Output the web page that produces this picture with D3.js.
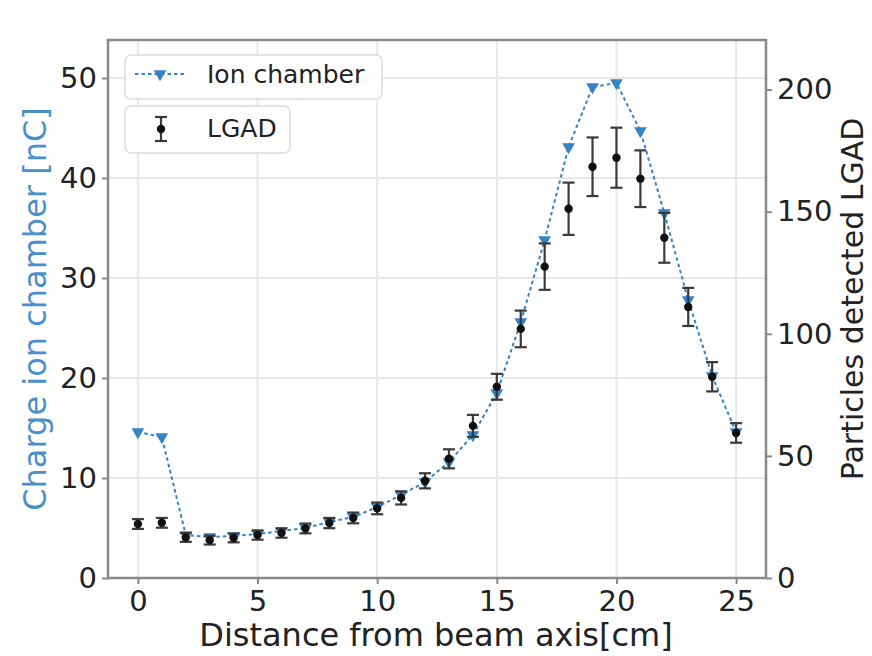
<!DOCTYPE html>
<html><head><meta charset="utf-8">
<script src="https://cdn.jsdelivr.net/npm/d3@7"></script>
<style>html,body{margin:0;padding:0;background:#fff;}svg{display:block;font-family:"DejaVu Sans",sans-serif;}</style>
</head><body>
<svg id="chart" width="872" height="656"></svg>
<script>
const distance = [0,1,2,3,4,5,6,7,8,9,10,11,12,13,14,15,16,17,18,19,20,21,22,23,24,25];
const ionCharge = [14.6,14.1,4.3,4.1,4.2,4.4,4.7,5.0,5.6,6.1,7.1,8.3,9.6,11.6,14.3,18.5,25.6,33.8,43.1,49.1,49.5,44.7,36.5,27.8,20.2,14.6];
const lgadCounts = [22.1,22.6,16.6,15.5,16.4,17.6,18.4,20.3,22.5,24.6,28.5,32.8,39.8,48.8,62.3,78.3,102,127.5,151.2,168.4,172.1,163.5,139.3,111,82.4,59.4];
const lgadErr = [2.0,2.0,1.8,1.8,1.8,1.9,1.9,2.0,2.1,2.2,2.4,2.7,3.1,3.9,4.5,5.3,7.5,9.5,10.7,12.0,12.3,11.6,10.2,7.8,6.0,4.0];
const xTicks = [0,5,10,15,20,25];
const leftTicks = [0,10,20,30,40,50];
const rightTicks = [0,50,100,150,200];

const svg = d3.select("#chart");
const L = 108, R = 766, T = 40, B = 578;
const x = d3.scaleLinear().domain([-1.25, 26.25]).range([L, R]);
const yL = d3.scaleLinear().domain([0, 53.8]).range([B, T]);
const yR = d3.scaleLinear().domain([0, 220.3]).range([B, T]);

const blue = "#3583c4";
const spine = "#8a8a8a";

// grid
const grid = svg.append("g");
grid.selectAll("line.vx").data(xTicks).join("line")
  .attr("x1", d => x(d)).attr("x2", d => x(d)).attr("y1", T).attr("y2", B)
  .attr("stroke", "#e8e8e8").attr("stroke-width", 2);
grid.selectAll("line.hy").data(leftTicks).join("line")
  .attr("x1", L).attr("x2", R).attr("y1", d => yL(d)).attr("y2", d => yL(d))
  .attr("stroke", "#e8e8e8").attr("stroke-width", 2);

// ion chamber series
const line = d3.line().x((d, i) => x(distance[i])).y(d => yL(d));
svg.append("path").datum(ionCharge).attr("d", line)
  .attr("fill", "none").attr("stroke", blue).attr("stroke-width", 2)
  .attr("stroke-dasharray", "3.5,3");
const tri = d3.symbol().type(d3.symbolTriangle).size(70);
svg.append("g").selectAll("path").data(ionCharge).join("path")
  .attr("d", tri)
  .attr("transform", (d, i) => `translate(${x(distance[i])},${yL(d)}) rotate(180)`)
  .attr("fill", blue);

// LGAD series
const eg = svg.append("g").attr("stroke", "#3a3a3a").attr("stroke-width", 2.2);
lgadCounts.forEach((v, i) => {
  const cx = x(distance[i]), y1 = yR(v - lgadErr[i]), y2 = yR(v + lgadErr[i]);
  eg.append("line").attr("x1", cx).attr("x2", cx).attr("y1", y1).attr("y2", y2);
  eg.append("line").attr("x1", cx - 6).attr("x2", cx + 6).attr("y1", y1).attr("y2", y1);
  eg.append("line").attr("x1", cx - 6).attr("x2", cx + 6).attr("y1", y2).attr("y2", y2);
});
svg.append("g").selectAll("circle").data(lgadCounts).join("circle")
  .attr("cx", (d, i) => x(distance[i])).attr("cy", d => yR(d)).attr("r", 4.2)
  .attr("fill", "#111");

// axes
function styleAxis(g) {
  g.selectAll(".domain").remove();
  g.selectAll(".tick line").attr("stroke", spine).attr("stroke-width", 2);
  g.selectAll(".tick text").attr("fill", "#222").style("font-size", "29px")
    .style("font-family", "DejaVu Sans");
}
svg.append("g").attr("transform", `translate(0,${B})`)
  .call(d3.axisBottom(x).tickValues(xTicks).tickSize(6).tickPadding(6).tickFormat(d3.format("d")))
  .call(styleAxis);
svg.append("g").attr("transform", `translate(${L},0)`)
  .call(d3.axisLeft(yL).tickValues(leftTicks).tickSize(6).tickPadding(5).tickFormat(d3.format("d")))
  .call(styleAxis);
svg.append("g").attr("transform", `translate(${R},0)`)
  .call(d3.axisRight(yR).tickValues(rightTicks).tickSize(6).tickPadding(5).tickFormat(d3.format("d")))
  .call(styleAxis);

// frame
svg.append("rect").attr("x", L).attr("y", T).attr("width", R - L).attr("height", B - T)
  .attr("fill", "none").attr("stroke", spine).attr("stroke-width", 2.5);

// labels
svg.append("text").attr("x", (L + R) / 2 - 1).attr("y", 646).attr("text-anchor", "middle")
  .style("font-size", "32px").attr("fill", "#222").text("Distance from beam axis[cm]");
svg.append("text").attr("transform", `translate(46,${(T + B) / 2}) rotate(-90)`)
  .attr("text-anchor", "middle").style("font-size", "32px").attr("fill", "#4a8fc9")
  .text("Charge ion chamber [nC]");
svg.append("text").attr("transform", `translate(863,${(T + B) / 2 - 10}) rotate(-90)`)
  .attr("text-anchor", "middle").style("font-size", "30px").attr("fill", "#222")
  .text("Particles detected LGAD");

// legends
const lg = svg.append("g");
lg.append("rect").attr("x", 125).attr("y", 55).attr("width", 257).attr("height", 44).attr("rx", 6)
  .attr("fill", "rgba(255,255,255,0.85)").attr("stroke", "#dcdcdc").attr("stroke-width", 1.5);
lg.append("line").attr("x1", 135).attr("x2", 185).attr("y1", 74).attr("y2", 74)
  .attr("stroke", blue).attr("stroke-width", 2).attr("stroke-dasharray", "3.5,3");
lg.append("path").attr("d", tri).attr("transform", "translate(160,74) rotate(180)").attr("fill", blue);
lg.append("text").attr("x", 207).attr("y", 83).style("font-size", "25px").attr("fill", "#222").text("Ion chamber");

lg.append("rect").attr("x", 125).attr("y", 106).attr("width", 165).attr("height", 47).attr("rx", 6)
  .attr("fill", "rgba(255,255,255,0.85)").attr("stroke", "#dcdcdc").attr("stroke-width", 1.5);
const lgE = lg.append("g").attr("stroke", "#3a3a3a").attr("stroke-width", 2.2);
lgE.append("line").attr("x1", 161).attr("x2", 161).attr("y1", 117).attr("y2", 141);
lgE.append("line").attr("x1", 155).attr("x2", 167).attr("y1", 117).attr("y2", 117);
lgE.append("line").attr("x1", 155).attr("x2", 167).attr("y1", 141).attr("y2", 141);
lg.append("circle").attr("cx", 161).attr("cy", 129).attr("r", 4.2).attr("fill", "#111");
lg.append("text").attr("x", 207).attr("y", 137).style("font-size", "25px").attr("fill", "#222").text("LGAD");
</script>
</body></html>
